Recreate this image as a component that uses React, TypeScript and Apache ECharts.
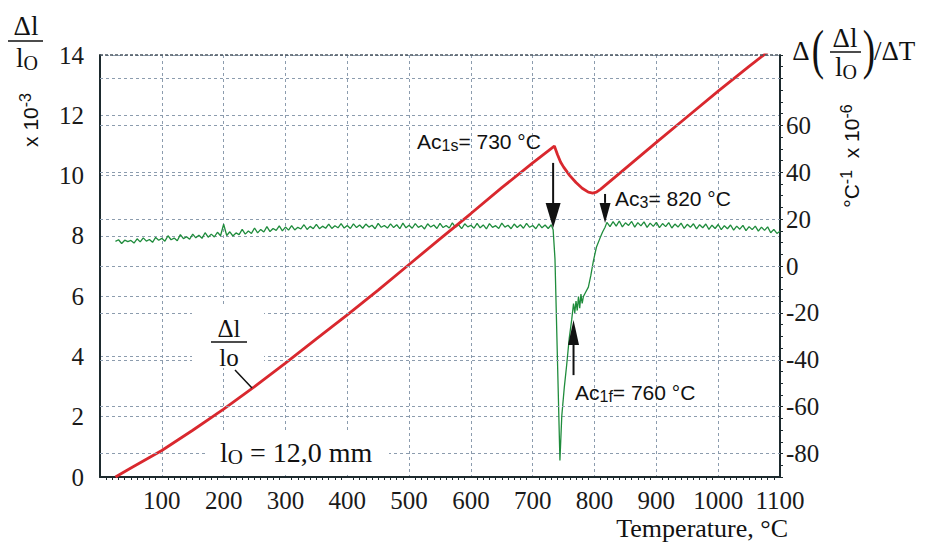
import React, { useEffect, useRef } from "react";
import * as echarts from "echarts";

// ---------- data ----------
const temperatureTicks = [0, 100, 200, 300, 400, 500, 600, 700, 800, 900, 1000, 1100];
const expansionTicks = [0, 2, 4, 6, 8, 10, 12, 14];
const coefficientGridValues = [-80, -60, -40, -20, 0, 20, 40, 60, 80];
const coefficientLabelValues = [-80, -60, -40, -20, 0, 20, 40, 60];
const coefficientRange = [-90, 90];

// Δl/l0 (x10^-3) vs temperature (°C)
const redTemperature = [25, 50, 100, 150, 200, 250, 300, 350, 400, 450, 500, 550, 600, 650, 700, 735, 740, 745, 750, 760, 770, 780, 790, 797, 803, 810, 850, 900, 950, 1000, 1050, 1080];
const redExpansion = [0, 0.3, 0.88, 1.55, 2.25, 3.0, 3.78, 4.58, 5.38, 6.2, 7.05, 7.9, 8.74, 9.6, 10.42, 10.98, 10.7, 10.45, 10.28, 10.0, 9.77, 9.58, 9.45, 9.42, 9.45, 9.55, 10.24, 11.1, 11.95, 12.8, 13.62, 14.1];

// Δ(Δl/l0)/ΔT (°C^-1 x10^-6) vs temperature (°C)
const greenTemperatureLow = [25, 30, 35, 40, 45, 50, 55, 60, 65, 70, 75, 80, 85, 90, 95, 100, 105, 110, 115, 120, 125, 130, 135, 140, 145, 150, 155, 160, 165, 170, 175, 180, 185, 190, 195, 200, 205, 210, 215, 220, 225, 230, 235, 240, 245, 250, 255, 260, 265, 270, 275, 280, 285, 290, 295, 300, 305, 310, 315, 320, 325, 330, 335, 340, 345, 350, 355, 360, 365, 370, 375, 380, 385, 390, 395, 400];
const greenCoefficientLow = [10.5, 11.2, 9.6, 11.0, 10.4, 10.9, 9.8, 11.6, 10.3, 12.0, 10.6, 11.3, 10.1, 12.2, 11.0, 11.8, 10.6, 12.9, 11.2, 11.9, 10.8, 13.4, 11.7, 12.5, 11.4, 13.6, 12.0, 13.1, 11.8, 14.2, 12.3, 13.6, 12.4, 14.4, 12.9, 17.8, 13.0, 14.6, 12.8, 14.1, 13.4, 15.6, 13.6, 14.9, 13.9, 16.2, 14.1, 15.6, 14.5, 16.8, 14.7, 16.0, 15.2, 17.1, 15.0, 16.6, 15.3, 17.2, 15.4, 16.5, 15.8, 17.6, 15.6, 16.9, 15.9, 17.8, 15.9, 17.0, 16.1, 17.9, 16.0, 17.2, 16.3, 18.1, 16.2, 17.3];
const greenTemperatureMid = [405, 410, 415, 420, 425, 430, 435, 440, 445, 450, 455, 460, 465, 470, 475, 480, 485, 490, 495, 500, 505, 510, 515, 520, 525, 530, 535, 540, 545, 550, 555, 560, 565, 570, 575, 580, 585, 590, 595, 600, 605, 610, 615, 620, 625, 630, 635, 640, 645, 650, 655, 660, 665, 670, 675, 680, 685, 690, 695, 700, 705, 710, 715, 720, 725, 730, 733];
const greenCoefficientMid = [16.0, 18.0, 16.4, 17.5, 16.1, 17.9, 16.6, 17.4, 15.9, 18.2, 16.5, 17.3, 16.2, 18.0, 16.4, 17.6, 15.9, 18.3, 16.3, 17.4, 16.1, 18.1, 16.5, 17.2, 15.8, 18.0, 16.6, 17.5, 16.0, 18.2, 16.4, 17.3, 16.2, 18.4, 16.5, 17.6, 15.9, 18.0, 16.7, 17.4, 16.1, 18.2, 16.3, 17.5, 15.8, 18.1, 16.5, 17.2, 16.0, 18.3, 16.6, 17.4, 15.9, 17.9, 16.4, 17.6, 16.1, 18.2, 16.5, 17.3, 15.9, 18.0, 16.3, 17.5, 16.0, 17.6, 15.5];
const greenTemperatureDip = [736, 740, 744, 747, 751, 755, 759, 763, 766, 768, 770, 772, 774, 776, 778, 780, 782, 786, 790, 794, 798, 803, 809, 813, 817];
const greenCoefficientDip = [3, -40, -83, -64, -52, -42, -31, -23, -16, -20, -15, -19, -13, -18, -12, -16, -13, -11, -9, -4, 2, 8, 12, 14.5, 16.5];
const greenTemperatureHigh = [820, 825, 830, 835, 840, 845, 850, 855, 860, 865, 870, 875, 880, 885, 890, 895, 900, 905, 910, 915, 920, 925, 930, 935, 940, 945, 950, 955, 960, 965, 970, 975, 980, 985, 990, 995, 1000, 1005, 1010, 1015, 1020, 1025, 1030, 1035, 1040, 1045, 1050, 1055, 1060, 1065, 1070, 1075, 1080, 1085, 1090, 1095, 1100];
const greenCoefficientHigh = [18.6, 16.8, 18.9, 17.0, 19.2, 16.7, 18.4, 17.3, 19.0, 16.6, 18.5, 17.1, 18.8, 16.5, 18.3, 16.9, 18.6, 16.4, 18.1, 16.8, 18.5, 16.2, 17.9, 16.6, 18.3, 16.0, 17.8, 16.5, 18.0, 15.8, 17.6, 16.3, 17.9, 15.6, 17.4, 16.0, 17.7, 15.5, 17.2, 15.9, 17.5, 15.3, 17.0, 15.7, 17.3, 15.1, 16.8, 15.5, 17.0, 14.9, 16.6, 15.2, 16.7, 14.2, 15.6, 13.9, 14.8];

// transformation points (temperature, arrow tail, arrow tip) on the left axis scale
const ac1sArrow = { t: 733, tail: 10.42, tip: 8.26 };
const ac3Arrow = { t: 817, tail: 9.39, tip: 8.43 };
const ac1fArrow = { t: 766, tail: 3.38, tip: 5.21 };

const SERIF = "Liberation Serif, Times New Roman, serif";
const SANS = "Liberation Sans, Arial, sans-serif";
const GRID = "#8c9cae";
const AXIS = "#1d2a2e";
const RED = "#d9282e";
const GREEN = "#1f8c3c";

export default function App() {
  const ref = useRef<HTMLDivElement>(null);

  useEffect(() => {
    const chart = echarts.init(ref.current!, null, { renderer: "svg", width: 925, height: 545 });
    const greenT = [...greenTemperatureLow, ...greenTemperatureMid, ...greenTemperatureDip, ...greenTemperatureHigh];
    const greenV = [...greenCoefficientLow, ...greenCoefficientMid, ...greenCoefficientDip, ...greenCoefficientHigh];
    const option: any = {
      animation: false,
      backgroundColor: "#ffffff",
      grid: { left: 100, right: 145, top: 55, bottom: 68 },
      xAxis: {
        type: "value",
        min: temperatureTicks[0],
        max: temperatureTicks[temperatureTicks.length - 1],
        interval: 100,
        axisLine: { show: true, onZero: false, lineStyle: { color: AXIS, width: 2 } },
        axisTick: { show: false },
        minorTick: { show: true, splitNumber: 10, length: 3, lineStyle: { color: AXIS, width: 1 } },
        axisLabel: {
          margin: 11,
          fontFamily: SERIF,
          fontSize: 25,
          color: "#1a1a1a",
          formatter: (v: number) => (v === 0 ? "" : String(v)),
        },
        splitLine: { show: true, lineStyle: { color: GRID, type: [3, 3], width: 1 } },
      },
      yAxis: [
        {
          type: "value",
          min: expansionTicks[0],
          max: expansionTicks[expansionTicks.length - 1],
          interval: 2,
          position: "left",
          axisLine: { show: true, onZero: false, lineStyle: { color: AXIS, width: 2 } },
          axisTick: { show: false },
          axisLabel: { margin: 16, fontFamily: SERIF, fontSize: 25, color: "#1a1a1a" },
          splitLine: { show: true, lineStyle: { color: GRID, type: [3, 3], width: 1 } },
        },
        {
          type: "value",
          min: coefficientRange[0],
          max: coefficientRange[1],
          interval: 10,
          position: "right",
          axisLine: { show: true, onZero: false, lineStyle: { color: AXIS, width: 2 } },
          axisTick: { show: true, length: 3, lineStyle: { color: AXIS, width: 1 } },
          minorTick: { show: true, splitNumber: 2, length: 3, lineStyle: { color: AXIS, width: 1 } },
          axisLabel: {
            margin: 6,
            fontFamily: SERIF,
            fontSize: 25,
            color: "#1a1a1a",
            formatter: (v: number) => (coefficientLabelValues.indexOf(v) >= 0 ? String(v) : ""),
          },
          splitLine: { show: false },
        },
      ],
      series: [
        {
          type: "line",
          yAxisIndex: 1,
          data: [[0, 0]],
          symbol: "none",
          silent: true,
          lineStyle: { opacity: 0 },
          z: 1,
          markLine: {
            silent: true,
            symbol: ["none", "none"],
            label: { show: false },
            lineStyle: { color: GRID, type: [3, 3], width: 1 },
            data: [
              ...coefficientGridValues.map((v) => ({ yAxis: v })),
              { yAxis: coefficientRange[1], lineStyle: { color: "#4a5560", type: [3, 2], width: 1.5 } },
            ],
          },
        },
        {
          type: "line",
          yAxisIndex: 1,
          data: greenT.map((t, i) => [t, greenV[i]]),
          symbol: "none",
          lineStyle: { color: GREEN, width: 1.3 },
          z: 3,
        },
        {
          type: "line",
          yAxisIndex: 0,
          data: redTemperature.map((t, i) => [t, redExpansion[i]]),
          symbol: "none",
          lineStyle: { color: RED, width: 2.8 },
          z: 4,
        },
      ],
    };
    chart.setOption(option);

    const px = (t: number, v: number) => chart.convertToPixel({ xAxisIndex: 0, yAxisIndex: 0 }, [t, v]) as number[];
    const arrow = (a: { t: number; tail: number; tip: number }, headLen: number, headW: number) => {
      const tail = px(a.t, a.tail);
      const tip = px(a.t, a.tip);
      const dir = tip[1] > tail[1] ? 1 : -1;
      const baseY = tip[1] - dir * headLen;
      return [
        { type: "line", z: 20, shape: { x1: tail[0], y1: tail[1], x2: tip[0], y2: baseY }, style: { stroke: "#111", lineWidth: 2 } },
        {
          type: "polygon",
          z: 20,
          shape: { points: [[tip[0], tip[1]], [tip[0] - headW / 2, baseY], [tip[0] + headW / 2, baseY]] },
          style: { fill: "#111" },
        },
      ];
    };

    const sub = { fontFamily: SANS, fontSize: 16, padding: [9, 0, 0, 0], fill: "#111" };
    const main = { fontFamily: SANS, fontSize: 21, fill: "#111" };

    const graphic: any[] = [
      // masks behind the in-plot labels
      { type: "rect", z: 5, shape: { x: 192, y: 306, width: 72, height: 62 }, style: { fill: "#fff" } },
      { type: "rect", z: 5, shape: { x: 207, y: 432, width: 182, height: 43 }, style: { fill: "#fff" } },
      // left axis title
      { type: "text", z: 20, x: 26, y: 26, style: { text: "Δl", font: `27px ${SERIF}`, fill: "#111", align: "center", verticalAlign: "middle" } },
      { type: "line", z: 20, shape: { x1: 8, y1: 41, x2: 43, y2: 41 }, style: { stroke: "#111", lineWidth: 1.5 } },
      {
        type: "text", z: 20, x: 27, y: 58,
        style: {
          text: "{a|l}{b|O}", align: "center", verticalAlign: "middle",
          rich: { a: { fontFamily: SERIF, fontSize: 27, fill: "#111" }, b: { fontFamily: SERIF, fontSize: 20, padding: [10, 0, 0, 0], fill: "#111" } },
        },
      },
      {
        type: "text", z: 20, x: 30, y: 120, rotation: Math.PI / 2,
        style: {
          text: "{a|x 10}{s|-3}", align: "center", verticalAlign: "middle",
          rich: { a: { fontFamily: SANS, fontSize: 21, fill: "#111" }, s: { fontFamily: SANS, fontSize: 16, padding: [0, 0, 10, 0], fill: "#111" } },
        },
      },
      // right axis title
      { type: "text", z: 20, x: 801, y: 51, style: { text: "Δ", font: `27px ${SERIF}`, fill: "#111", align: "center", verticalAlign: "middle" } },
      { type: "text", z: 20, x: 818, y: 49, scaleY: 1.5, style: { text: "(", font: `37px ${SERIF}`, fill: "#111", align: "center", verticalAlign: "middle" } },
      { type: "text", z: 20, x: 845, y: 38, style: { text: "Δl", font: `27px ${SERIF}`, fill: "#111", align: "center", verticalAlign: "middle" } },
      { type: "line", z: 20, shape: { x1: 830, y1: 52, x2: 861, y2: 52 }, style: { stroke: "#111", lineWidth: 1.5 } },
      {
        type: "text", z: 20, x: 846, y: 67,
        style: {
          text: "{a|l}{b|O}", align: "center", verticalAlign: "middle",
          rich: { a: { fontFamily: SERIF, fontSize: 27, fill: "#111" }, b: { fontFamily: SERIF, fontSize: 20, padding: [10, 0, 0, 0], fill: "#111" } },
        },
      },
      { type: "text", z: 20, x: 869, y: 49, scaleY: 1.5, style: { text: ")", font: `37px ${SERIF}`, fill: "#111", align: "center", verticalAlign: "middle" } },
      { type: "text", z: 20, x: 874, y: 51, style: { text: "/ΔT", font: `27px ${SERIF}`, fill: "#111", align: "left", verticalAlign: "middle" } },
      {
        type: "text", z: 20, x: 851, y: 156, rotation: Math.PI / 2,
        style: {
          text: "{a|°C}{s|-1}{a|  x 10}{s|-6}", align: "center", verticalAlign: "middle",
          rich: { a: { fontFamily: SANS, fontSize: 21, fill: "#111" }, s: { fontFamily: SANS, fontSize: 16, padding: [0, 0, 10, 0], fill: "#111" } },
        },
      },
      // x axis name
      { type: "text", z: 20, x: 788, y: 528, style: { text: "Temperature, °C", font: `26px ${SERIF}`, fill: "#111", align: "right", verticalAlign: "middle" } },
      // transformation annotations
      { type: "text", z: 20, x: 417, y: 141, style: { text: "{a|Ac}{s|1s}{a|= 730 °C}", align: "left", verticalAlign: "middle", rich: { a: main, s: sub } } },
      { type: "text", z: 20, x: 615, y: 198, style: { text: "{a|Ac}{s|3}{a|= 820 °C}", align: "left", verticalAlign: "middle", rich: { a: main, s: sub } } },
      { type: "text", z: 20, x: 575, y: 392, style: { text: "{a|Ac}{s|1f}{a|= 760 °C}", align: "left", verticalAlign: "middle", rich: { a: main, s: sub } } },
      ...arrow(ac1sArrow, 25, 15),
      ...arrow(ac3Arrow, 20, 11),
      ...arrow(ac1fArrow, 25, 11),
      // curve label
      { type: "text", z: 20, x: 229, y: 328, style: { text: "Δl", font: `25px ${SERIF}`, fill: "#111", align: "center", verticalAlign: "middle" } },
      { type: "line", z: 20, shape: { x1: 211, y1: 342, x2: 247, y2: 342 }, style: { stroke: "#111", lineWidth: 1.5 } },
      { type: "text", z: 20, x: 229, y: 357, style: { text: "lo", font: `25px ${SERIF}`, fill: "#111", align: "center", verticalAlign: "middle" } },
      { type: "line", z: 20, shape: { x1: 235, y1: 370, x2: 252, y2: 388 }, style: { stroke: "#111", lineWidth: 1.5 } },
      // specimen length
      {
        type: "text", z: 20, x: 220, y: 452,
        style: {
          text: "{a|l}{b|O}{a| = 12,0 mm}", align: "left", verticalAlign: "middle",
          rich: { a: { fontFamily: SERIF, fontSize: 28, fill: "#111" }, b: { fontFamily: SERIF, fontSize: 21, padding: [10, 0, 0, 0], fill: "#111" } },
        },
      },
    ];
    chart.setOption({ graphic });

    return () => chart.dispose();
  }, []);

  return <div ref={ref} style={{ position: "fixed", left: 0, top: 0, width: 925, height: 545, background: "#fff" }} />;
}
